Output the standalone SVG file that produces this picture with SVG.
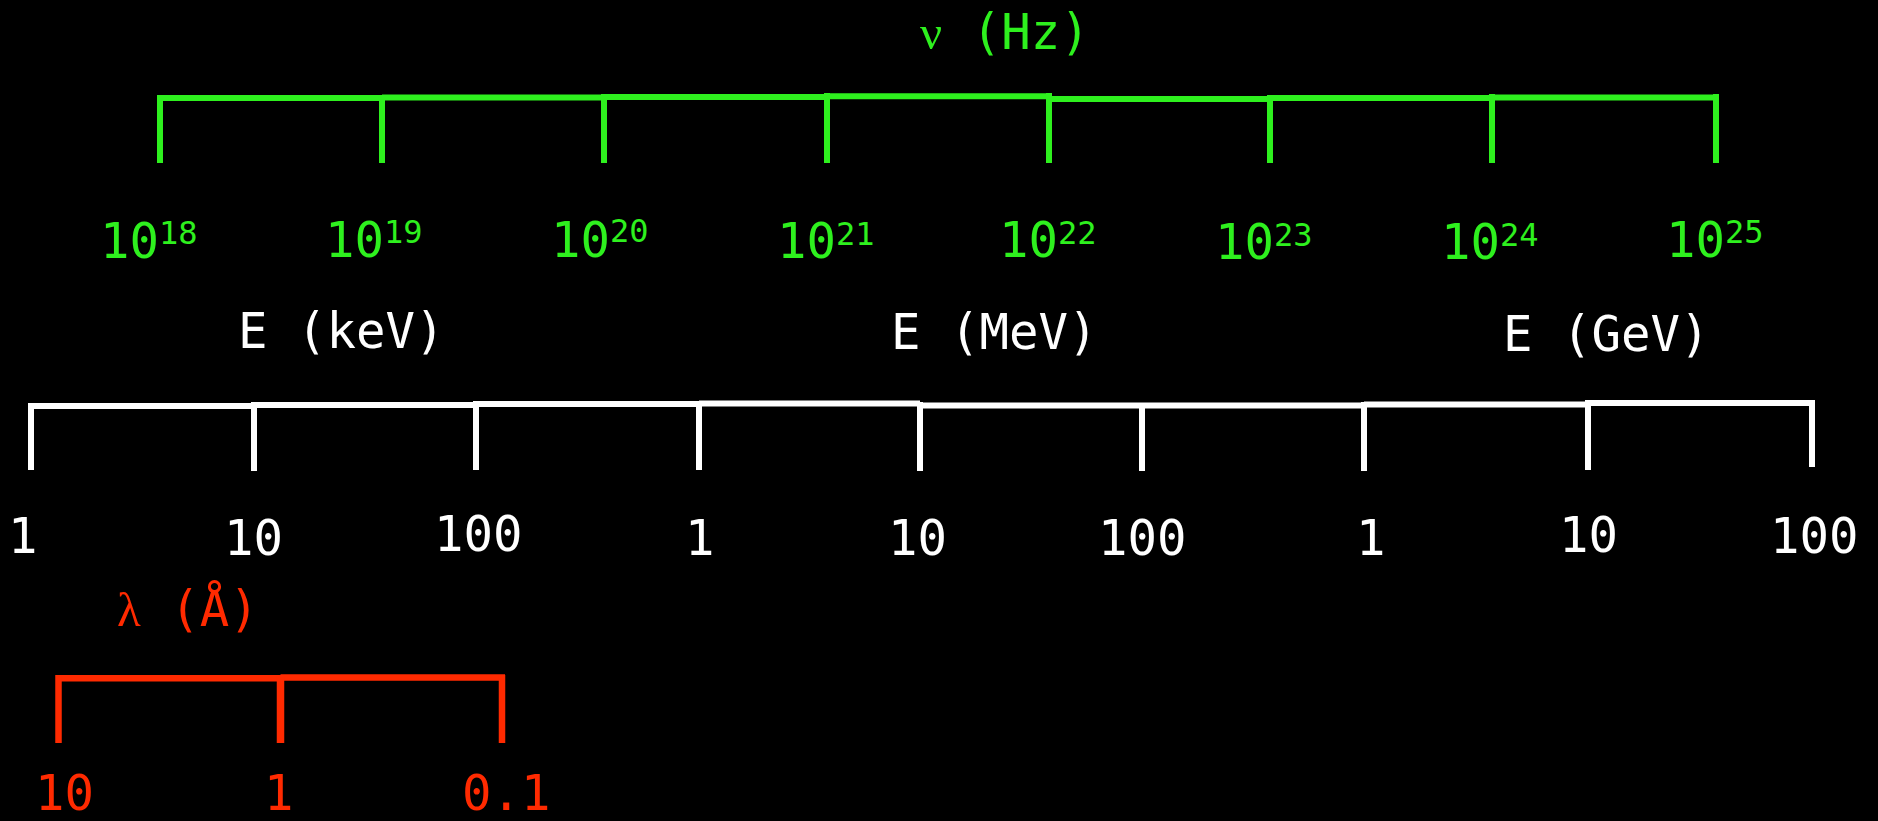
<svg xmlns="http://www.w3.org/2000/svg" width="1878" height="821" viewBox="0 0 1878 821">
<style>
  .t { font-family: "DejaVu Sans Mono", "Liberation Mono", monospace; font-size: 49px; }
  .g { fill: #2ef01e; }
  .w { fill: #ffffff; }
  .r { fill: #ff2a00; }
  .greek { font-family: "Liberation Serif", "DejaVu Serif", serif; }
  .sup { font-size: 32px; }
  .lg { stroke: #2ef01e; stroke-width: 6; fill: none; }
  .lw { stroke: #ffffff; stroke-width: 6; fill: none; }
  .lr { stroke: #ff2a00; stroke-width: 6.5; fill: none; }
</style>
<rect x="0" y="0" width="1878" height="821" fill="#000000"/>

<g id="frequency-axis">
  <text class="t g" x="920" y="49"><tspan class="greek">ν</tspan> (Hz)</text>
  <g id="frequency-scale">
    <path class="lg" d="M157 98H382 M382 97.5H604 M604 97H827 M827 96.3H1049 M1049 99H1270 M1270 98H1492 M1492 97.5H1719"/>
    <path class="lg" d="M160 95V163 M382 95V163 M604 94V163 M827 93V163 M1049 93V163 M1270 95V163 M1492 94V163 M1716 94V163"/>
  </g>
  <g id="frequency-labels">
    <text class="t g" x="100" y="258">10<tspan class="sup" dy="-14">18</tspan></text>
    <text class="t g" x="325" y="257">10<tspan class="sup" dy="-14">19</tspan></text>
    <text class="t g" x="551" y="257">10<tspan class="sup" dy="-15">20</tspan></text>
    <text class="t g" x="777" y="258">10<tspan class="sup" dy="-13">21</tspan></text>
    <text class="t g" x="999" y="257">10<tspan class="sup" dy="-13">22</tspan></text>
    <text class="t g" x="1215" y="259">10<tspan class="sup" dy="-13">23</tspan></text>
    <text class="t g" x="1441" y="259">10<tspan class="sup" dy="-13">24</tspan></text>
    <text class="t g" x="1666" y="257">10<tspan class="sup" dy="-14">25</tspan></text>
  </g>
</g>

<g id="energy-axis">
  <text class="t w" x="238" y="348">E (keV)</text>
  <text class="t w" x="891" y="349">E (MeV)</text>
  <text class="t w" x="1503" y="351">E (GeV)</text>
  <g id="energy-scale">
    <path class="lw" d="M28 406H254 M254 405H476 M476 404H699 M699 403.5H920 M920 405.5H1142 M1142 405.5H1364 M1364 404.5H1588 M1588 403H1815"/>
    <path class="lw" d="M31 403V470 M254 402V471 M476 401V470 M699 401V470 M920 402V471 M1142 403V471 M1364 402V471 M1588 400V470 M1812 400V467"/>
  </g>
  <g id="energy-labels">
    <text class="t w" x="8" y="553">1</text>
    <text class="t w" x="224" y="555">10</text>
    <text class="t w" x="434" y="551">100</text>
    <text class="t w" x="685" y="555">1</text>
    <text class="t w" x="888" y="555">10</text>
    <text class="t w" x="1098" y="555">100</text>
    <text class="t w" x="1356" y="555">1</text>
    <text class="t w" x="1559" y="552">10</text>
    <text class="t w" x="1770" y="553">100</text>
  </g>
</g>

<g id="wavelength-axis">
  <text class="t r" x="117" y="626"><tspan class="greek">λ</tspan> (Å)</text>
  <g id="wavelength-scale">
    <path class="lr" d="M59 678.3H280.5 M280.5 677.5H505"/>
    <path class="lr" d="M58.5 675V743 M502 675V743"/>
    <path class="lr" d="M280.5 675V743" style="stroke-width:7.5"/>
  </g>
  <g id="wavelength-labels">
    <text class="t r" x="35" y="810">10</text>
    <text class="t r" x="264" y="810">1</text>
    <text class="t r" x="462" y="810">0.1</text>
  </g>
</g>
</svg>
